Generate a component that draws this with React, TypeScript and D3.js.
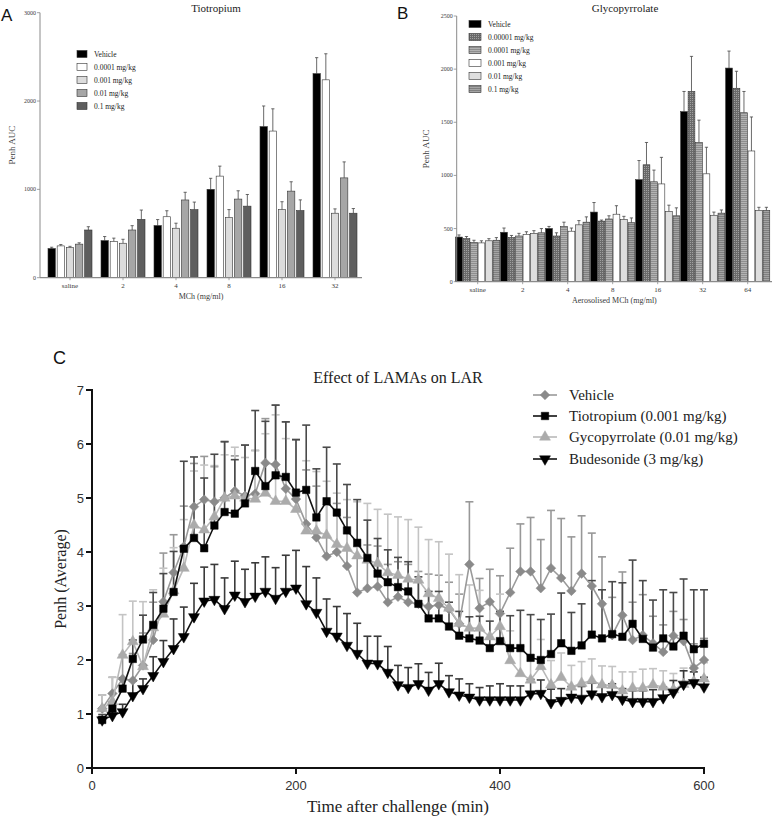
import React from 'react';
import * as d3 from 'd3';

// ---------- Panel A data ----------
const catsA = ['saline', '2', '4', '8', '16', '32'];
const seriesA = ['Vehicle', '0.0001 mg/kg', '0.001 mg/kg', '0.01 mg/kg', '0.1 mg/kg'];
const vehA = [330, 420, 590, 1000, 1710, 2310];
const t0001A = [360, 410, 690, 1150, 1660, 2240];
const t001A = [340, 390, 560, 680, 770, 730];
const t01A = [380, 540, 880, 890, 980, 1130];
const t1A = [540, 660, 770, 810, 760, 730];
const vehAErr = [15, 46, 68, 125, 234, 181];
const t0001AErr = [15, 38, 68, 113, 252, 295];
const t001AErr = [15, 45, 57, 91, 90, 49];
const t01AErr = [15, 49, 87, 94, 106, 181];
const t1AErr = [37, 106, 86, 132, 121, 53];
const ticksA = [0, 1000, 2000, 3000];

// ---------- Panel B data ----------
const catsB = ['saline', '2', '4', '8', '16', '32', '64'];
const seriesB = ['Vehicle', '0.00001 mg/kg', '0.0001 mg/kg', '0.001 mg/kg', '0.01 mg/kg', '0.1 mg/kg'];
const vehB = [420, 465, 500, 655, 960, 1600, 2010];
const g00001B = [405, 415, 430, 570, 1100, 1790, 1820];
const g0001B = [370, 430, 520, 590, 940, 1310, 1590];
const g001B = [365, 445, 475, 635, 920, 1015, 1230];
const g01B = [385, 455, 535, 585, 660, 625, 670];
const g1B = [390, 460, 560, 555, 620, 645, 670];
const vehBErr = [20, 40, 20, 90, 180, 190, 160];
const g00001BErr = [20, 20, 30, 10, 210, 330, 160];
const g0001BErr = [20, 25, 40, 30, 110, 210, 200];
const g001BErr = [20, 25, 30, 80, 250, 250, 320];
const g01BErr = [20, 25, 40, 30, 60, 30, 30];
const g1BErr = [25, 40, 50, 45, 75, 30, 30];
const ticksB = [0, 500, 1000, 1500, 2000, 2500];

// ---------- Panel C data ----------
const timeC = d3.range(10, 601, 10);
const vehicleC = [1.10, 1.38, 1.65, 1.62, 1.90, 2.37, 3.08, 3.62, 4.10, 4.84,
  4.97, 4.93, 5.00, 5.13, 5.04, 5.08, 5.65, 5.62, 5.17, 4.98,
  4.52, 4.27, 3.92, 4.00, 3.74, 3.25, 3.33, 3.36, 3.07, 3.17,
  3.07, 3.04, 2.99, 3.02, 2.94, 2.67, 3.77, 2.96, 3.08, 2.86,
  3.25, 3.64, 3.64, 3.33, 3.70, 3.52, 3.28, 3.60, 3.37, 3.04,
  2.46, 2.83, 2.37, 2.46, 2.31, 2.15, 2.45, 2.35, 1.85, 2.00];
const tiotropiumC = [0.89, 1.10, 1.47, 2.02, 2.38, 2.65, 2.95, 3.26, 4.06, 4.26,
  4.07, 4.49, 4.74, 4.71, 4.90, 5.50, 5.22, 5.42, 5.39, 5.10,
  5.15, 4.64, 4.94, 4.73, 4.40, 4.17, 3.89, 3.60, 3.44, 3.35,
  3.27, 3.04, 2.77, 2.77, 2.62, 2.45, 2.40, 2.36, 2.22, 2.35,
  2.22, 2.22, 2.04, 2.00, 2.11, 2.31, 2.17, 2.27, 2.47, 2.40,
  2.48, 2.43, 2.67, 2.39, 2.23, 2.40, 2.25, 2.45, 2.20, 2.30];
const glycoC = [1.10, 1.23, 2.09, 2.34, 1.88, 2.60, 2.85, 3.28, 3.70, 4.50,
  4.41, 4.65, 5.00, 5.04, 5.00, 4.98, 5.09, 4.94, 4.94, 4.79,
  4.39, 4.39, 4.31, 4.14, 4.07, 3.93, 3.85, 3.79, 3.62, 3.57,
  3.50, 3.48, 3.23, 3.14, 2.96, 2.68, 2.59, 2.59, 2.43, 2.62,
  1.99, 1.75, 1.63, 1.88, 1.54, 1.68, 1.50, 1.57, 1.62, 1.54,
  1.53, 1.43, 1.48, 1.48, 1.54, 1.50, 1.45, 1.55, 1.60, 1.65];
const budesonideC = [0.89, 0.97, 1.04, 1.34, 1.47, 1.71, 1.97, 2.21, 2.43, 2.80,
  3.09, 3.12, 2.95, 3.20, 3.08, 3.18, 3.27, 3.14, 3.27, 3.33,
  3.04, 2.88, 2.53, 2.44, 2.27, 2.12, 1.94, 1.93, 1.77, 1.54,
  1.49, 1.56, 1.44, 1.56, 1.41, 1.35, 1.31, 1.26, 1.26, 1.26,
  1.26, 1.26, 1.37, 1.38, 1.21, 1.25, 1.31, 1.29, 1.37, 1.32,
  1.36, 1.27, 1.23, 1.23, 1.23, 1.30, 1.40, 1.55, 1.58, 1.50];
const vehicleErrC = [0.25, 0.3, 0.45, 0.5, 0.6, 0.7, 0.9, 0.7, 0.75, 0.8,
  0.8, 0.65, 1.05, 0.65, 0.94, 0.8, 0.82, 1.1, 1.24, 1.1,
  1.0, 0.95, 0.95, 0.9, 0.9, 0.85, 0.8, 0.75, 0.7, 0.65,
  0.7, 0.6, 0.6, 0.55, 0.5, 0.55, 1.16, 0.55, 0.6, 0.7,
  0.82, 0.88, 1.0, 0.9, 1.07, 1.1, 1.0, 1.07, 0.98, 0.87,
  0.7, 0.8, 0.7, 0.75, 0.5, 0.5, 0.45, 0.4, 0.45, 0.4];
const tiotropiumErrC = [0.1, 0.12, 0.2, 0.35, 0.45, 0.6, 0.65, 0.75, 1.62, 1.5,
  1.3, 1.32, 1.3, 1.0, 1.08, 1.12, 1.2, 1.3, 1.02, 0.98,
  1.2, 0.9, 1.0, 0.9, 0.85, 0.8, 0.7, 0.65, 0.6, 0.55,
  0.55, 0.5, 0.5, 0.5, 0.45, 0.45, 0.4, 0.45, 0.5, 0.55,
  0.6, 0.7, 0.8, 0.75, 0.74, 0.93, 0.71, 0.77, 1.0, 0.9,
  0.97, 1.0, 1.18, 1.08, 0.88, 0.9, 1.0, 1.05, 1.1, 1.0];
const glycoErrC = [0.25, 0.45, 0.75, 0.75, 1.2, 0.7, 0.85, 0.8, 0.9, 1.0,
  1.2, 0.95, 0.8, 0.9, 0.75, 0.9, 1.1, 1.6, 1.16, 1.3,
  1.3, 1.1, 1.0, 0.95, 0.9, 1.0, 1.05, 1.0, 1.08, 1.08,
  1.1, 0.98, 1.0, 1.05, 1.0, 0.9, 0.8, 0.7, 0.6, 0.6,
  0.55, 0.5, 0.45, 0.5, 0.45, 0.45, 0.4, 0.4, 0.4, 0.35,
  0.35, 0.35, 0.3, 0.35, 0.3, 0.3, 0.3, 0.3, 0.3, 0.3];
const budesonideErrC = [0.05, 0.08, 0.14, 0.27, 0.18, 0.35, 0.39, 0.55, 0.55, 0.62,
  0.63, 0.65, 0.57, 0.63, 0.6, 0.62, 0.64, 0.57, 0.67, 0.7,
  0.69, 0.64, 0.6, 0.55, 0.59, 0.56, 0.5, 0.51, 0.48, 0.36,
  0.37, 0.37, 0.33, 0.38, 0.3, 0.3, 0.25, 0.23, 0.26, 0.3,
  0.26, 0.26, 0.27, 0.25, 0.25, 0.22, 0.2, 0.22, 0.2, 0.22,
  0.2, 0.2, 0.2, 0.2, 0.22, 0.2, 0.22, 0.25, 0.2, 0.18];
const ticksCY = [0, 1, 2, 3, 4, 5, 6, 7];
const ticksCX = [0, 200, 400, 600];

const SERIF = '"Liberation Serif", "Times New Roman", serif';
const SANS = '"Liberation Sans", Arial, sans-serif';

type BarProps = {
  cats: string[]; series: string[]; vals: number[][]; errs: number[][];
  fills: string[]; yMax: number; ticks: number[];
  axisX0: number; axisX1: number; yTop: number; yBottom: number;
  bandX0: number; bandX1: number; padInner: number; padOuter: number; barPad: number;
  title: string; titleX: number; xLabel: string; yLabelX: number;
  legX: number; legY0: number; legStep: number; swW: number;
  letter: string; letterX: number; letterY: number;
};

function BarPanel(p: BarProps) {
  const y = d3.scaleLinear().domain([0, p.yMax]).range([p.yBottom, p.yTop]);
  const xb = d3.scaleBand<string>().domain(p.cats).range([p.bandX0, p.bandX1])
    .paddingInner(p.padInner).paddingOuter(p.padOuter);
  const xs = d3.scaleBand<string>().domain(p.series).range([0, xb.bandwidth()]).paddingInner(p.barPad);
  const axisC = '#8a8a8a';
  const textC = '#3a3a3a';
  return (
    <g>
      <text x={p.letterX} y={p.letterY} fontFamily={SANS} fontSize={17} fill="#111">{p.letter}</text>
      <text x={p.titleX} y={12} textAnchor="middle" fontFamily={SERIF} fontSize={11} fill="#222">{p.title}</text>
      {p.series.map((s, si) =>
        p.cats.map((c, ci) => {
          const x0 = (xb(c) as number) + (xs(s) as number);
          const w = xs.bandwidth();
          const v = p.vals[si][ci];
          const e = p.errs[si][ci];
          return (
            <g key={s + c}>
              <line x1={x0 + w / 2} x2={x0 + w / 2} y1={y(v)} y2={y(v + e)} stroke="#444" strokeWidth={0.8} />
              <line x1={x0 + w / 2 - 1.6} x2={x0 + w / 2 + 1.6} y1={y(v + e)} y2={y(v + e)} stroke="#444" strokeWidth={0.8} />
              <rect x={x0} y={y(v)} width={w} height={y(0) - y(v)} fill={p.fills[si]} stroke="#333" strokeWidth={0.6} />
            </g>
          );
        })
      )}
      <line x1={p.axisX0} x2={p.axisX0} y1={p.yTop} y2={p.yBottom} stroke={axisC} strokeWidth={1} />
      <line x1={p.axisX0} x2={p.axisX1} y1={p.yBottom} y2={p.yBottom} stroke={axisC} strokeWidth={1.2} />
      {p.ticks.map(t => (
        <g key={t}>
          <line x1={p.axisX0 - 3} x2={p.axisX0} y1={y(t)} y2={y(t)} stroke={axisC} strokeWidth={0.8} />
          <text x={p.axisX0 - 4} y={y(t) + 2} textAnchor="end" fontFamily={SERIF} fontSize={6} fill={textC}>{t}</text>
        </g>
      ))}
      {p.cats.map(c => {
        const cx = (xb(c) as number) + xb.bandwidth() / 2;
        return (
          <g key={c}>
            <line x1={cx} x2={cx} y1={p.yBottom} y2={p.yBottom + 2.5} stroke={axisC} strokeWidth={0.8} />
            <text x={cx} y={p.yBottom + 10} textAnchor="middle" fontFamily={SERIF} fontSize={7} fill={textC}>{c}</text>
          </g>
        );
      })}
      <text x={(p.axisX0 + p.axisX1) / 2} y={p.yBottom + 21} textAnchor="middle" fontFamily={SERIF} fontSize={8} fill={textC}>{p.xLabel}</text>
      <text transform={`translate(${p.yLabelX},${(p.yTop + p.yBottom) / 2}) rotate(-90)`} textAnchor="middle" fontFamily={SERIF} fontSize={9} fill={textC}>Penh AUC</text>
      {p.series.map((s, si) => (
        <g key={'leg' + s}>
          <rect x={p.legX} y={p.legY0 + si * p.legStep - 3.5} width={p.swW} height={7} fill={p.fills[si]} stroke="#333" strokeWidth={0.6} />
          <text x={p.legX + p.swW + 7} y={p.legY0 + si * p.legStep + 2.7} fontFamily={SERIF} fontSize={7.5} fill="#222">{s}</text>
        </g>
      ))}
    </g>
  );
}

type SeriesC = { name: string; vals: number[]; errs: number[]; fill: string; line: string; err: string; marker: string };

const seriesCList: SeriesC[] = [
  { name: 'Vehicle', vals: vehicleC, errs: vehicleErrC, fill: '#8a8a8a', line: '#9a9a9a', err: '#989898', marker: 'diamond' },
  { name: 'Tiotropium (0.001 mg/kg)', vals: tiotropiumC, errs: tiotropiumErrC, fill: '#000', line: '#111', err: '#4a4a4a', marker: 'square' },
  { name: 'Gycopyrrolate (0.01 mg/kg)', vals: glycoC, errs: glycoErrC, fill: '#ababab', line: '#b9b9b9', err: '#c4c4c4', marker: 'triangle' },
  { name: 'Budesonide (3 mg/kg)', vals: budesonideC, errs: budesonideErrC, fill: '#000', line: '#111', err: '#3a3a3a', marker: 'down' },
];

function Marker({ kind, x, y, fill }: { kind: string; x: number; y: number; fill: string }) {
  let path = '';
  let rot = 0;
  if (kind === 'diamond') { path = d3.symbol().type(d3.symbolSquare).size(46)() as string; rot = 45; }
  else if (kind === 'square') { path = d3.symbol().type(d3.symbolSquare).size(56)() as string; }
  else if (kind === 'triangle') { path = d3.symbol().type(d3.symbolTriangle).size(52)() as string; }
  else { path = d3.symbol().type(d3.symbolTriangle).size(52)() as string; rot = 180; }
  return <path d={path} transform={`translate(${x},${y}) rotate(${rot})`} fill={fill} stroke={fill} strokeWidth={0.5} />;
}

function PanelC() {
  const x = d3.scaleLinear().domain([0, 600]).range([92, 704]);
  const y = d3.scaleLinear().domain([0, 7]).range([768, 390]);
  const line = d3.line<number>().x((_, i) => x(timeC[i])).y(d => y(d));
  const drawOrder = [0, 2, 1, 3];
  const legY = [395, 416, 437, 459];
  return (
    <g>
      <text x={53} y={364} fontFamily={SANS} fontSize={18} fill="#111">C</text>
      <text x={398} y={383} textAnchor="middle" fontFamily={SERIF} fontSize={16} fill="#222">Effect of LAMAs on LAR</text>
      {drawOrder.map(si => {
        const s = seriesCList[si];
        return (
          <g key={'err' + si}>
            {s.vals.map((v, i) => {
              const cx = x(timeC[i]);
              const top = y(v + s.errs[i]);
              return (
                <g key={i}>
                  <line x1={cx} x2={cx} y1={y(v)} y2={top} stroke={s.err} strokeWidth={1.6} />
                  <line x1={cx - 4} x2={cx + 4} y1={top} y2={top} stroke={s.err} strokeWidth={1.6} />
                </g>
              );
            })}
          </g>
        );
      })}
      {drawOrder.map(si => {
        const s = seriesCList[si];
        return (
          <g key={'ser' + si}>
            <path d={line(s.vals) as string} fill="none" stroke={s.line} strokeWidth={1.6} />
            {s.vals.map((v, i) => <Marker key={i} kind={s.marker} x={x(timeC[i])} y={y(v)} fill={s.fill} />)}
          </g>
        );
      })}
      <line x1={92} x2={92} y1={y(7) - 1} y2={y(0)} stroke="#111" strokeWidth={2} />
      <line x1={91} x2={705} y1={y(0)} y2={y(0)} stroke="#111" strokeWidth={2} />
      {ticksCY.map(t => (
        <g key={t}>
          <line x1={86} x2={92} y1={y(t)} y2={y(t)} stroke="#111" strokeWidth={2} />
          <text x={84} y={y(t) + 4.5} textAnchor="end" fontFamily={SANS} fontSize={13} fill="#333">{t}</text>
        </g>
      ))}
      {ticksCX.map(t => (
        <g key={t}>
          <line x1={x(t)} x2={x(t)} y1={y(0)} y2={y(0) + 6} stroke="#111" strokeWidth={2} />
          <text x={x(t)} y={790} textAnchor="middle" fontFamily={SANS} fontSize={13} fill="#333">{t}</text>
        </g>
      ))}
      <text x={398} y={812} textAnchor="middle" fontFamily={SERIF} fontSize={17} fill="#222">Time after challenge (min)</text>
      <text transform={`translate(66,${(390 + 768) / 2}) rotate(-90)`} textAnchor="middle" fontFamily={SERIF} fontSize={16} fill="#222">Penh (Average)</text>
      {seriesCList.map((s, si) => (
        <g key={'leg' + si}>
          <line x1={533} x2={557} y1={legY[si]} y2={legY[si]} stroke={s.line} strokeWidth={1.6} />
          <Marker kind={s.marker} x={545} y={legY[si]} fill={s.fill} />
          <text x={569} y={legY[si] + 5} fontFamily={SERIF} fontSize={15} fill="#222">{s.name}</text>
        </g>
      ))}
    </g>
  );
}

export default function App() {
  const fillsA = ['#000000', '#ffffff', '#dcdcdc', '#a6a6a6', '#5e5e5e'];
  const fillsB = ['#000000', 'url(#pGrid)', 'url(#pStripe1)', '#ffffff', '#dedede', 'url(#pStripe2)'];
  return (
    <svg width={778} height={819} style={{ position: 'absolute', left: 0, top: 0, background: '#fff' }}>
      <defs>
        <pattern id="pGrid" width={2} height={2} patternUnits="userSpaceOnUse">
          <rect width={2} height={2} fill="#6a6a6a" />
          <rect width={1} height={1} fill="#a0a0a0" />
        </pattern>
        <pattern id="pStripe1" width={2} height={2} patternUnits="userSpaceOnUse">
          <rect width={2} height={2} fill="#8e8e8e" />
          <rect width={2} height={1} fill="#b2b2b2" />
        </pattern>
        <pattern id="pStripe2" width={2} height={2} patternUnits="userSpaceOnUse">
          <rect width={2} height={2} fill="#a4a4a4" />
          <rect width={2} height={1} fill="#808080" />
        </pattern>
      </defs>
      <rect width={778} height={819} fill="#fff" />
      <BarPanel cats={catsA} series={seriesA}
        vals={[vehA, t0001A, t001A, t01A, t1A]} errs={[vehAErr, t0001AErr, t001AErr, t01AErr, t1AErr]}
        fills={fillsA} yMax={3000} ticks={ticksA}
        axisX0={40} axisX1={362} yTop={12.7} yBottom={277.7}
        bandX0={43.5} bandX1={361.5} padInner={0.17} padOuter={0.085} barPad={0.2}
        title="Tiotropium" titleX={216} xLabel="MCh (mg/ml)" yLabelX={15}
        legX={77} legY0={54} legStep={13} swW={10}
        letter="A" letterX={1} letterY={21} />
      <BarPanel cats={catsB} series={seriesB}
        vals={[vehB, g00001B, g0001B, g001B, g01B, g1B]} errs={[vehBErr, g00001BErr, g0001BErr, g001BErr, g01BErr, g1BErr]}
        fills={fillsB} yMax={2500} ticks={ticksB}
        axisX0={456.7} axisX1={772} yTop={16} yBottom={281.7}
        bandX0={455.2} bandX1={770.2} padInner={0.02} padOuter={0.01} barPad={0.1}
        title="Glycopyrrolate" titleX={625} xLabel="Aerosolised MCh (mg/ml)" yLabelX={429}
        legX={469} legY0={24} legStep={13} swW={12}
        letter="B" letterX={397} letterY={19} />
      <PanelC />
    </svg>
  );
}
